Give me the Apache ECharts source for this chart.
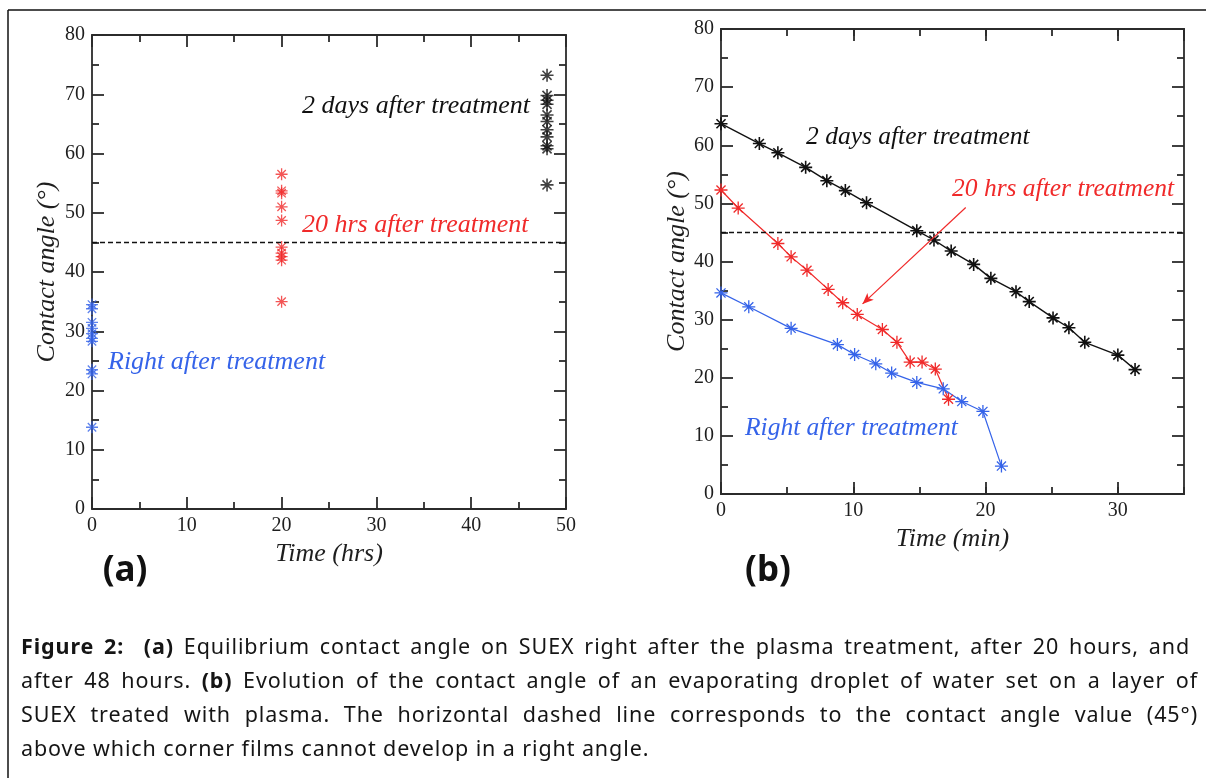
<!DOCTYPE html>
<html>
<head>
<meta charset="utf-8">
<script src="https://cdn.jsdelivr.net/npm/echarts@6/dist/echarts.min.js"></script>
<style>
  html, body { margin: 0; padding: 0; background: #fff; }
  #chart { position: absolute; left: 0; top: 0; width: 1206px; height: 778px; }
  #caption {
    position: absolute; left: 21px; top: 629px; width: 1177px;
    font-family: 'Noto Sans', sans-serif; font-size: 21.5px; line-height: 34px; color: #151515;
    letter-spacing: 0.9px;
  }
  #caption div { white-space: nowrap; }
  #caption .j { text-align: justify; text-align-last: justify; }
  #caption b { font-weight: 700; }
</style>
</head>
<body>
<div id="chart"></div>
<div id="caption">
  <div class="j" style="width:1169px"><b>Figure 2:</b>&nbsp; <b>(a)</b> Equilibrium contact angle on SUEX right after the plasma treatment, after 20 hours, and</div>
  <div class="j">after 48 hours. <b>(b)</b> Evolution of the contact angle of an evaporating droplet of water set on a layer of</div>
  <div class="j">SUEX treated with plasma. The horizontal dashed line corresponds to the contact angle value (45°)</div>
  <div>above which corner films cannot develop in a right angle.</div>
</div>
<script>
// ---- panel (a): equilibrium contact angle vs time (hrs)
var aTimes = [0, 20, 48]
var aRightAfter = [34.5, 33.8, 31.5, 30.5, 29.6, 28.8, 28.3, 23.5, 22.8, 13.8]
var a20hrs = [56.5, 53.7, 53.3, 51.0, 48.7, 44.2, 43.2, 42.6, 42.0, 35.0]
var a2days = [73.2, 69.8, 69.0, 68.3, 66.5, 65.4, 64.0, 62.8, 61.3, 60.8, 54.7]

// ---- panel (b): contact angle of evaporating droplet vs time (min)
var bTimeBlack = [0, 2.9, 4.3, 6.4, 8.0, 9.4, 11.0, 14.8, 16.1, 17.4, 19.1, 20.4, 22.3, 23.3, 25.1, 26.3, 27.5, 30.0, 31.3]
var bAngleBlack = [63.7, 60.3, 58.7, 56.2, 53.9, 52.2, 50.1, 45.3, 43.7, 41.8, 39.5, 37.1, 34.8, 33.1, 30.3, 28.6, 26.1, 23.9, 21.4]
var bTimeRed = [0, 1.3, 4.3, 5.3, 6.5, 8.1, 9.2, 10.3, 12.2, 13.3, 14.3, 15.2, 16.2, 17.2]
var bAngleRed = [52.3, 49.2, 43.1, 40.8, 38.5, 35.2, 32.9, 30.9, 28.3, 26.1, 22.7, 22.7, 21.5, 16.3]
var bTimeBlue = [0, 2.1, 5.3, 8.8, 10.1, 11.7, 12.9, 14.8, 16.8, 18.2, 19.8, 21.2]
var bAngleBlue = [34.6, 32.2, 28.5, 25.7, 24.0, 22.4, 20.8, 19.2, 18.1, 15.9, 14.2, 4.8]

var threshold = 45
var arrowFrom = [18.5, 49.3]
var arrowTo = [10.7, 32.7]

var BLACK = '#111111'
var RED = '#f02a2a'
var BLUE = '#3563e9'
var AXIS = '#2b2b2b'
var STAR = 'path://M5,0L5,10M0,5L10,5M1.5,1.5L8.5,8.5M1.5,8.5L8.5,1.5'
var SERIF = '"Liberation Serif", "Times New Roman", serif'

function pairs(xs, ys) {
  return ys.map(function (y, i) { return [xs[i], y] })
}
function column(x, ys) {
  return ys.map(function (y) { return [x, y] })
}

var tickLabel = { show: true, fontFamily: SERIF, fontSize: 20, color: '#1e1e1e', margin: 7 }

function axis(opt) {
  var base = {
    type: 'value',
    axisLine: { show: true, onZero: false, lineStyle: { color: AXIS, width: 1.8 } },
    axisTick: { show: true, inside: true, length: 12, lineStyle: { color: AXIS, width: 1.8 } },
    minorTick: { show: true, splitNumber: 2, length: 7, lineStyle: { color: AXIS, width: 1.8 } },
    axisLabel: { show: false },
    splitLine: { show: false },
    minorSplitLine: { show: false },
    nameTextStyle: { fontFamily: SERIF, fontStyle: 'italic', fontSize: 26, color: '#1e1e1e' }
  }
  return Object.assign(base, opt)
}
var shortTick = { show: true, inside: true, length: 7, lineStyle: { color: AXIS, width: 1.8 } }

var chart = echarts.init(document.getElementById('chart'))

var starStyle = function (c, w) {
  return { color: 'rgba(0,0,0,0)', borderColor: c, borderWidth: w }
}

var dashed = {
  silent: true, symbol: 'none', label: { show: false },
  lineStyle: { color: BLACK, type: [5, 3], width: 1.3 },
  data: [{ yAxis: threshold }]
}

chart.setOption({
  animation: false,
  grid: [
    { left: 92, top: 35, width: 474, height: 474 },
    { left: 721, top: 29, width: 463, height: 465 }
  ],
  xAxis: [
    axis({ gridIndex: 0, min: 0, max: 50, interval: 10, position: 'bottom', axisLabel: tickLabel,
      name: 'Time (hrs)', nameLocation: 'middle', nameGap: 23 }),
    axis({ gridIndex: 0, min: 0, max: 50, interval: 10, position: 'top' }),
    axis({ gridIndex: 1, min: 0, max: 35, interval: 10, position: 'bottom', minorTick: { show: false },
      axisLabel: Object.assign({ showMaxLabel: false }, tickLabel),
      name: 'Time (min)', nameLocation: 'middle', nameGap: 21 }),
    axis({ gridIndex: 1, min: 0, max: 35, interval: 10, position: 'top', minorTick: { show: false } }),
    axis({ gridIndex: 1, min: 0, max: 35, interval: 5, position: 'bottom', minorTick: { show: false }, axisTick: shortTick }),
    axis({ gridIndex: 1, min: 0, max: 35, interval: 5, position: 'top', minorTick: { show: false }, axisTick: shortTick })
  ],
  yAxis: [
    axis({ gridIndex: 0, min: 0, max: 80, interval: 10, position: 'left', axisLabel: tickLabel,
      name: 'Contact angle (°)', nameLocation: 'middle', nameGap: 32 }),
    axis({ gridIndex: 0, min: 0, max: 80, interval: 10, position: 'right' }),
    axis({ gridIndex: 1, min: 0, max: 80, interval: 10, position: 'left', axisLabel: tickLabel,
      name: 'Contact angle (°)', nameLocation: 'middle', nameGap: 31 }),
    axis({ gridIndex: 1, min: 0, max: 80, interval: 10, position: 'right' })
  ],
  series: [
    { type: 'scatter', xAxisIndex: 0, yAxisIndex: 0, clip: false, symbol: STAR, symbolSize: 12,
      itemStyle: starStyle(BLUE, 1.3), data: column(aTimes[0], aRightAfter) },
    { type: 'scatter', xAxisIndex: 0, yAxisIndex: 0, clip: false, symbol: STAR, symbolSize: 12,
      itemStyle: starStyle(RED, 1.3), data: column(aTimes[1], a20hrs) },
    { type: 'scatter', xAxisIndex: 0, yAxisIndex: 0, clip: false, symbol: STAR, symbolSize: 13,
      itemStyle: starStyle(BLACK, 1.6), data: column(aTimes[2], a2days), markLine: dashed },

    { type: 'line', xAxisIndex: 2, yAxisIndex: 2, clip: false, symbol: STAR, symbolSize: 13,
      lineStyle: { color: BLACK, width: 1.4 }, itemStyle: starStyle(BLACK, 1.6),
      data: pairs(bTimeBlack, bAngleBlack), markLine: dashed },
    { type: 'line', xAxisIndex: 2, yAxisIndex: 2, clip: false, symbol: STAR, symbolSize: 13,
      lineStyle: { color: RED, width: 1.2 }, itemStyle: starStyle(RED, 1.3),
      data: pairs(bTimeRed, bAngleRed),
      markLine: {
        silent: true, symbol: ['none', 'arrow'], symbolSize: [7, 11], label: { show: false },
        lineStyle: { color: RED, width: 1.2, type: 'solid' },
        data: [[{ coord: arrowFrom }, { coord: arrowTo }]]
      } },
    { type: 'line', xAxisIndex: 2, yAxisIndex: 2, clip: false, symbol: STAR, symbolSize: 13,
      lineStyle: { color: BLUE, width: 1.2 }, itemStyle: starStyle(BLUE, 1.3),
      data: pairs(bTimeBlue, bAngleBlue) }
  ],
  graphic: [
    // outer frame (top and left edges)
    { type: 'line', shape: { x1: 8, y1: 10, x2: 1206, y2: 10 }, style: { stroke: '#111', lineWidth: 1.5 } },
    { type: 'line', shape: { x1: 8, y1: 10, x2: 8, y2: 778 }, style: { stroke: '#111', lineWidth: 1.5 } },

    { type: 'text', x: 302, y: 106, style: { text: '2 days after treatment', fill: BLACK, font: 'italic 26px ' + SERIF, textVerticalAlign: 'middle' } },
    { type: 'text', x: 302, y: 225, style: { text: '20 hrs after treatment', fill: RED, font: 'italic 26px ' + SERIF, textVerticalAlign: 'middle' } },
    { type: 'text', x: 108, y: 362, style: { text: 'Right after treatment', fill: BLUE, font: 'italic 26px ' + SERIF, textVerticalAlign: 'middle' } },

    { type: 'text', x: 806, y: 137, style: { text: '2 days after treatment', fill: BLACK, font: 'italic 25.5px ' + SERIF, textVerticalAlign: 'middle' } },
    { type: 'text', x: 952, y: 189, style: { text: '20 hrs after treatment', fill: RED, font: 'italic 25.5px ' + SERIF, textVerticalAlign: 'middle' } },
    { type: 'text', x: 745, y: 428, style: { text: 'Right after treatment', fill: BLUE, font: 'italic 25.5px ' + SERIF, textVerticalAlign: 'middle' } },

    { type: 'text', x: 125, y: 571, style: { text: '(a)', fill: '#111', font: 'bold 35px "Noto Sans", sans-serif', textAlign: 'center', textVerticalAlign: 'middle' } },
    { type: 'text', x: 768, y: 571, style: { text: '(b)', fill: '#111', font: 'bold 35px "Noto Sans", sans-serif', textAlign: 'center', textVerticalAlign: 'middle' } }
  ]
})
</script>
</body>
</html>
